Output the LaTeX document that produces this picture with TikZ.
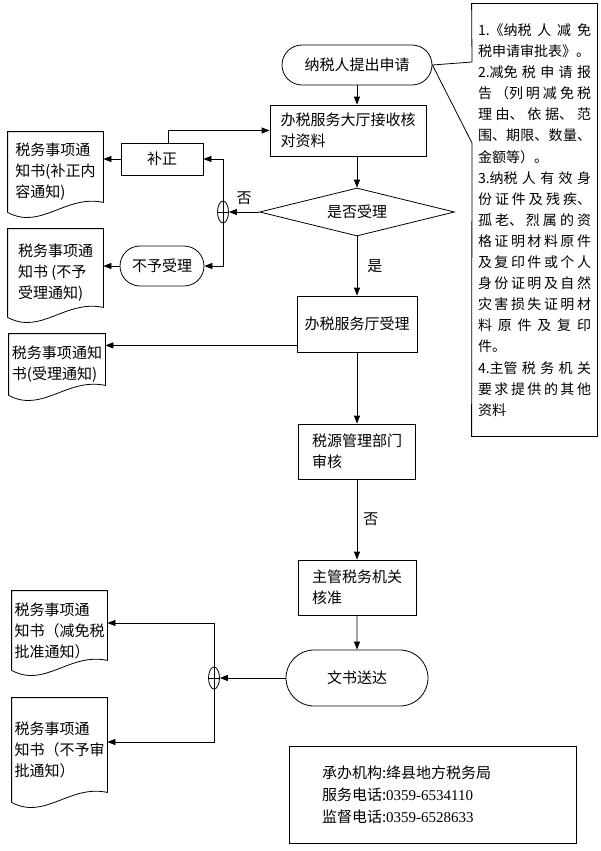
\documentclass[tikz,border=0pt]{standalone}
\usepackage{fontspec}
\setmainfont{Liberation Serif}
\newfontfamily\cjk{Noto Sans CJK SC}
\usetikzlibrary{arrows.meta,shapes,calc}

\begin{document}
\begin{tikzpicture}[x=1pt,y=-1pt,line width=0.8pt,
  font=\cjk\fontsize{15}{21}\selectfont,
  >={Triangle[length=8pt,width=6pt]},
  box/.style={draw,rectangle,inner sep=0pt},
  proc/.style={draw,rectangle,inner sep=0pt,align=left},
  term/.style={draw,rounded rectangle,inner sep=0pt},
  doc/.style={rectangle,inner sep=0pt,align=left},
  junc/.style={draw,ellipse,minimum width=11pt,minimum height=22pt,inner sep=0pt},
  lbl/.style={inner sep=0pt}]
\useasboundingbox (0,0) rectangle (600,851);

% main column
\node[term,minimum width=150pt,minimum height=40pt] (start) at (357,65) {纳税人提出申请};
\node[proc,minimum width=156pt,minimum height=51pt] (chk) at (348,130.5) {办税服务大厅接收核\\对资料};
\node[draw,diamond,aspect=4,inner sep=0pt,minimum width=195pt,minimum height=48pt] (dec) at (357,212) {是否受理};
\node[box,minimum width=120pt,minimum height=56pt] (acc) at (357,324) {办税服务厅受理};
\node[proc,minimum width=117pt,minimum height=55pt] (sy) at (357,451.5) {税源管理部门\\审核};
\node[proc,minimum width=118pt,minimum height=55pt] (zg) at (357,587.5) {主管税务机关\\核准};
\node[term,minimum width=142pt,minimum height=56pt] (ws) at (357,678) {文书送达};

% left side
\node[box,minimum width=82pt,minimum height=32pt] (bz) at (162,159) {补正};
\node[term,minimum width=84pt,minimum height=40pt] (byl) at (162,266) {不予受理};
\node[junc] (j1) at (223,212) {};
\node[junc] (j2) at (214,678) {};

\node[doc,minimum width=95pt,minimum height=80pt] (d1) at (55.5,172) {税务事项通\\知书(补正内\\容通知)};
\node[doc,minimum width=95pt,minimum height=88pt] (d2) at (55.5,273) {税务事项通\\知书 (不予\\受理通知)};
\node[doc,minimum width=96pt,minimum height=61pt] (d3) at (57,364.5) {税务事项通知\\书(受理通知)};
\node[doc,minimum width=95pt,minimum height=79pt] (d4) at (59.5,630.5) {税务事项通\\知书（减免税\\批准通知）};
\node[doc,minimum width=95pt,minimum height=104pt] (d5) at (59.5,750) {税务事项通\\知书（不予审\\批通知）};

% note and contact
\node[rectangle,inner xsep=6pt,inner ysep=0pt,text width=113pt,align=justify,minimum height=432pt,
  font=\cjk\fontsize{14}{21.1}\selectfont] (note) at (534.5,220)
  {\XeTeXlinebreaklocale "zh"\XeTeXlinebreakskip=0pt plus 4pt\tolerance=10000
  \mbox{1.《纳}税人减免\linebreak
  税申请审批表》。\\
  \mbox{2.减}免税申请报\linebreak
  告（列明减免税\linebreak
  理由、依据、范\linebreak
  围、期限、数量、\linebreak
  金额等）。\\
  \mbox{3.纳}税人有效身\linebreak
  份证件及残疾、\linebreak
  孤老、烈属的资\linebreak
  格证明材料原件\linebreak
  及复印件或个人\linebreak
  身份证明及自然\linebreak
  灾害损失证明材\linebreak
  料原件及复印\linebreak
  件。\\
  \mbox{4.主}管税务机关\linebreak
  要求提供的其他\linebreak
  资料};
\coordinate (cA) at (472,62);
\coordinate (cB) at (472,143);
\draw (note.north west) -- (note.north east) -- (note.south east) -- (note.south west)
  -- (cB) -- (start.east) -- (cA) -- cycle;

\node[draw,line width=1pt,minimum width=287pt,minimum height=97pt,text width=221pt,
  inner xsep=33pt,inner ysep=0pt,align=left,font=\cjk\fontsize{15}{22}\selectfont] (org) at (432.5,794.5)
  {承办机构:绛县地方税务局\\服务电话:{\rmfamily 0359-6534110}\\监督电话:{\rmfamily 0359-6528633}};

% document outlines
\foreach \d in {d1,d2,d3,d4,d5}
  \draw (\d.south west) -- (\d.north west) -- (\d.north east) -- ($(\d.south east)+(0,-10)$)
    .. controls ($(\d.south west)!0.6!(\d.south east)+(0,-18)$) and ($(\d.south west)!0.35!(\d.south east)+(0,18)$) .. (\d.south west);
\foreach \j in {j1,j2}
  \draw (\j.west) -- (\j.east) (\j.north) -- (\j.south);

% connectors
\draw[->] (start.south) -- (start.south |- chk.north);
\draw[->] (start.south |- chk.south) -- (dec.north);
\draw[->] (dec.west) -- (j1.east) node[lbl,midway,above=6.5pt] {否};
\draw[->] (j1.north) |- (bz.east);
\draw[->] (j1.south) |- (byl.east);
\draw[->] ([xshift=6pt]bz.north) |- (chk.west);
\draw[->] (bz.west) -- (bz.west -| d1.east);
\draw[->] (byl.west) -- (byl.west -| d2.east);
\draw[->] (dec.south) -- (acc.north) node[lbl,midway,right=10pt] {是};
\draw[->] ($(acc.south west)+(0,-7)$) -- ($(acc.south west -| d3.east)+(0,-7)$);
\draw[->] (acc) -- (sy);
\draw[->] (sy) -- (zg) node[lbl,midway,right=6pt] {否};
\draw[->] (zg) -- (ws);
\draw[->] (ws) -- (j2);
\draw[->] (j2.north) |- ($(d4.east)+(0,-7.5)$);
\draw[->] (j2.south) |- ($(d5.east)+(0,-8)$);
\end{tikzpicture}
\end{document}
